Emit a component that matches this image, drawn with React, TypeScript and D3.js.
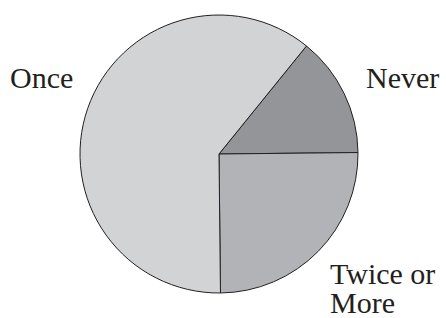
import React from "react";
import * as d3 from "d3";

// slice order clockwise, starting at the Never/Once border
const categories = ["Never", "Twice or More", "Once"];
const shares = [14, 25, 61];
const fills = ["#939598", "#b1b3b6", "#d1d3d4"];

const App = () => {
  const width = 446;
  const height = 318;
  const cx = 219;
  const cy = 154;
  const radius = 139;

  const pie = d3
    .pie<number>()
    .sort(null)
    .startAngle((39 * Math.PI) / 180)
    .endAngle((39 * Math.PI) / 180 + 2 * Math.PI);
  const arcs = pie(shares);
  const arc = d3.arc<d3.PieArcDatum<number>>().innerRadius(0).outerRadius(radius);

  const font = "Liberation Serif";

  return (
    <svg
      width={width}
      height={height}
      style={{ position: "absolute", left: 0, top: 0, background: "#fff" }}
    >
      <g transform={`translate(${cx},${cy})`}>
        {arcs.map((d, i) => (
          <path
            key={categories[i]}
            d={arc(d) || ""}
            fill={fills[i]}
            stroke="#231f20"
            strokeWidth={1}
            strokeLinejoin="round"
          />
        ))}
      </g>
      {/* labels */}
      <g fontFamily={font} fontSize={30} fill="#231f20">
        <text x={10} y={88}>
          Once
        </text>
        <text x={366} y={88}>
          Never
        </text>
        <text x={330} y={284}>
          <tspan x={330}>Twice or</tspan>
          <tspan x={330} dy={29}>
            More
          </tspan>
        </text>
      </g>
    </svg>
  );
};

export default App;
